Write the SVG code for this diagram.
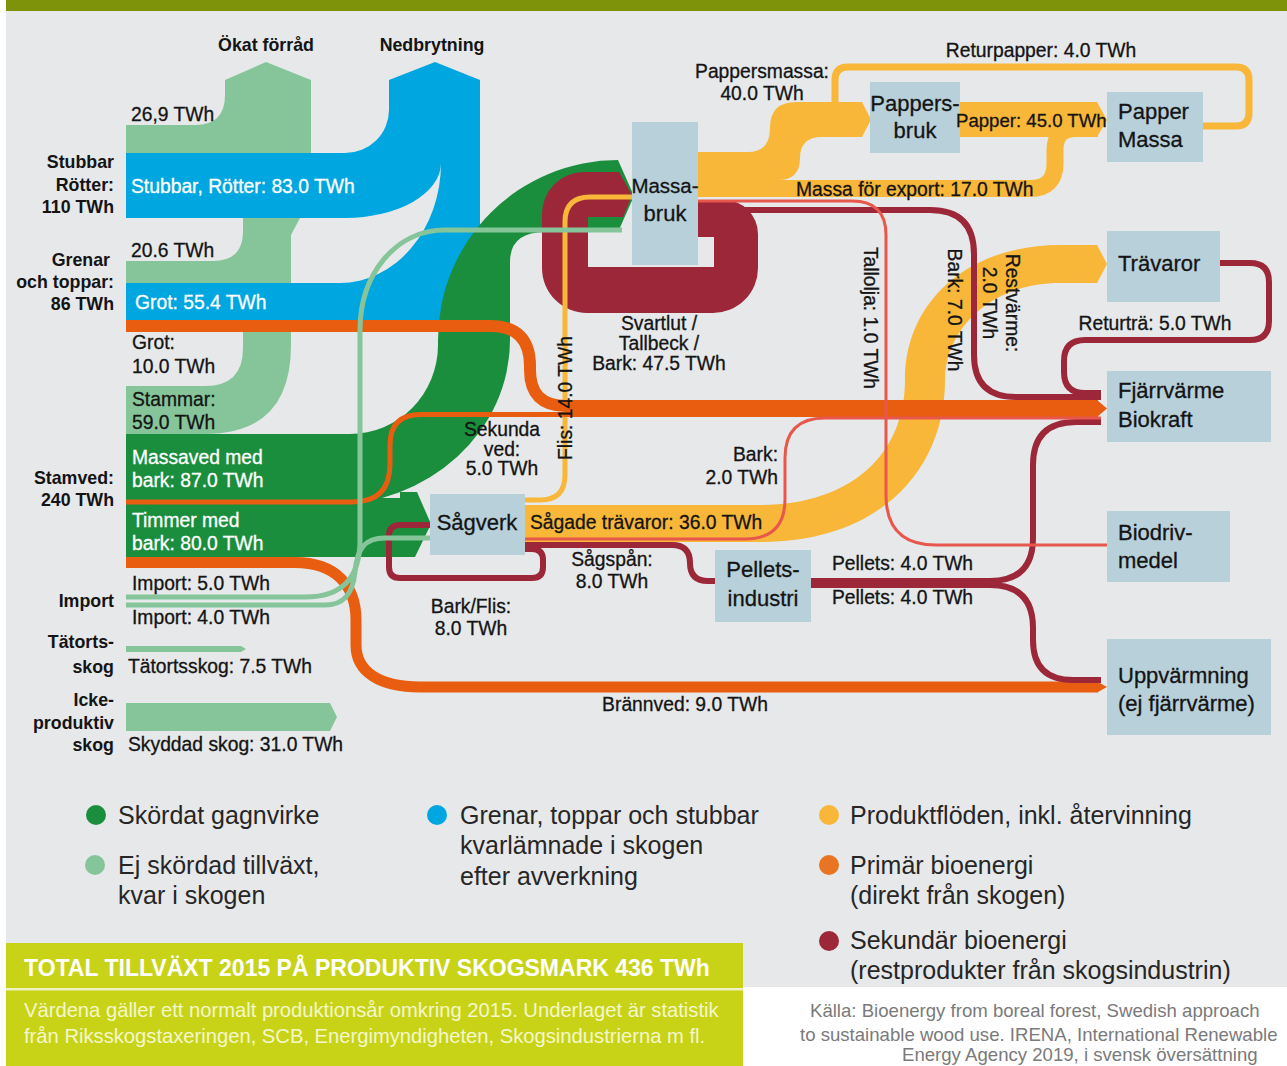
<svg xmlns="http://www.w3.org/2000/svg" width="1287" height="1066" viewBox="0 0 1287 1066">
<style>
text{font-family:'Liberation Sans',Arial,sans-serif;fill:#141414}
.l{font-size:19.3px;stroke:#141414;stroke-width:0.3px}
.b{font-size:17.8px;font-weight:bold}
.w{font-size:19.3px;fill:#fff;stroke:#fff;stroke-width:0.3px}
.n{font-size:22px;stroke:#141414;stroke-width:0.3px}
.g{font-size:25px;fill:#262626}
.m{text-anchor:middle}
.e{text-anchor:end}
.lg{fill:#86c59a}
.bl{fill:#00a6e0}
.dg{fill:#1b8e3e}
.mr{fill:#9c2739}
.ye{fill:#f8b738}
.or{fill:#e85d10}
.sl{fill:none;stroke-linejoin:round}
.node rect{fill:#b7d0da}
.src{font-size:18.6px;fill:#7a7a7a}
</style>
<rect x="0" y="0" width="1287" height="1066" fill="#ffffff"/>
<rect x="6" y="0" width="1281" height="11" fill="#7e930a"/>
<rect x="6" y="11" width="1281" height="976" fill="#e6e8ea"/>

<g id="connectors">
  <g id="light-green-bands">
    <path class="lg" d="M126,125 H195 Q225,125 225,95 V80 L266,62 L311,80 V218 L300,218 L291,235 V345 Q291,434 205,434 H126 V386 H205 Q243,386 243,348 V283 H126 V261 H213 Q243,261 243,231 V160 H126 Z"/>
    <path class="lg" d="M126,646 H241 L246,649 L241,652 H126 Z"/>
    <path class="lg" d="M126,703 H330 L337,717 L330,731 H126 Z"/>
  </g>
  <g id="blue-bands">
    <path class="bl" d="M126,153 H345 A44,43 0 0 0 389,110 V80 L435,62 L480,80 V175 H441 V163 A96,55 0 0 1 345,218 H126 Z"/>
    <path class="bl" d="M126,283 H340 A101,120 0 0 0 441,163 V100 H480 V230 Q480,326 420,326 H126 Z"/>
  </g>
  <g id="green-bands">
    <path class="dg" d="M126,434 H350 A88,89 0 0 0 438,345 V340 A180,180 0 0 1 618,160 L634,196 L618,232 H545 Q510,232 510,262 V340 A180,165 0 0 1 330,505 H126 Z"/>
    <path class="dg" d="M126,498 H400 V492 H417 L431,524 L415,557 H126 Z"/>
  </g>
  <g id="svartlut-loop">
    <path class="mr" d="M619,172 H584 A42,42 0 0 0 542,214 V268 A45,45 0 0 0 587,313 H713 A45,45 0 0 0 758,268 V234 A34,34 0 0 0 724,200 H690 V237 H714 V267 H588 V217 H623 L632,195 Z"/>
  </g>
  <g id="yellow-bands">
    <path class="ye" d="M698,152 H748 Q770,152 770,128 Q770,102 796,102 H862 L871,119.5 L862,137 H822 Q800,137 800,158 Q800,180 778,180 H698 Z"/>
    <path class="sl" stroke="#f8b738" stroke-width="17" d="M698,188.5 H1030 Q1055,188.5 1055,163.5 V150 Q1055,128.5 1076,128.5 H1098"/>
    <path class="ye" d="M960,102 H1097 L1107,120 L1097,137 H960 Z"/>
    <path class="sl" stroke="#f8b738" stroke-width="7" d="M1203,126 H1236 Q1249,126 1249,113 V80 Q1249,67 1236,67 H848 Q835,67 835,80 V104"/>
    <path class="ye" d="M525,505 H760 C850,505 905,455 905,380 C905,300 970,245 1060,245 H1097 L1107,264 L1097,283 H1060 C990,283 945,330 945,380 C945,470 880,542 760,542 H525 Z"/>
    <path class="sl" stroke="#f8b738" stroke-width="5" d="M525,500 H540 Q565,500 565,475 V222 Q565,197 590,197 H632"/>
  </g>
  <g id="orange-bands">
    <path class="sl" stroke="#e85d10" stroke-width="12" d="M126,326 H490 Q530,326 530,366 V370 Q530,406 566,406 H1098"/>
    <path class="sl" stroke="#e85d10" stroke-width="5" d="M126,502 H352 Q390,502 390,464 V445 Q390,414.5 421,414.5 H1098"/>
    <path class="or" d="M1097,400 L1107,408.5 L1097,417 Z"/>
    <path class="sl" stroke="#e85d10" stroke-width="11" d="M126,562.5 H295 C335,562.5 356,585 356,620 V645 C356,672 380,687 420,687 H1098"/>
    <path class="or" d="M1097,681.5 L1107,687 L1097,692.5 Z"/>
  </g>
  <g id="maroon-lines" class="sl" stroke="#9c2739" stroke-width="6">
    <path d="M698,210 H930 Q974,210 974,254 V355 Q974,397 1016,397 H1101"/>
    <path d="M1220,263 H1250 Q1269,263 1269,282 V321 Q1269,340 1250,340 H1085 Q1064,340 1064,361 V372 Q1064,393 1085,393 H1101"/>
    <path d="M525,549 H532 Q543,549 543,560 V567 Q543,578 532,578 H400 Q389,578 389,567 V536 Q389,525 400,525 H430"/>
    <path d="M525,545 H672 Q690,545 690,563 Q690,581 708,581 H716"/>
    <path d="M810,581 H990 Q1033,581 1033,538 V465 Q1033,422 1076,422 H1101"/>
    <path d="M810,585 H990 Q1033,585 1033,628 V640 Q1033,680 1073,680 H1101"/>
  </g>
  <g id="salmon-lines" class="sl" stroke="#e8574c" stroke-width="3">
    <path d="M698,201 H852 Q886,201 886,235 V495 Q886,545 936,545 H1107"/>
    <path d="M525,539 H745 Q785,539 785,499 V458 Q785,418 825,418 H1101"/>
  </g>
  <g id="import-lines" class="sl" stroke="#86c59a" stroke-width="5">
    <path d="M126,597 H305 C345,597 360,575 360,540 V330 C360,275 395,230 445,230 H622"/>
    <path d="M126,605 H325 C345,605 353,592 355,572 C357,548 365,538 385,538 H430"/>
  </g>
</g>

<g id="node-massabruk" class="node"><rect x="632" y="122" width="66" height="143"/><text class="n m" x="665" y="193" style="font-size:20.5px">Massa-</text><text class="n m" x="665" y="221">bruk</text></g>
<g id="node-pappersbruk" class="node"><rect x="870" y="82" width="90" height="71"/><text class="n m" x="915" y="111">Pappers-</text><text class="n m" x="915" y="138">bruk</text></g>
<g id="node-pappermassa" class="node"><rect x="1107" y="92" width="96" height="70"/><text class="n" x="1118" y="119">Papper</text><text class="n" x="1118" y="147">Massa</text></g>
<g id="node-travaror" class="node"><rect x="1107" y="231" width="113" height="71"/><text class="n" x="1118" y="271">Trävaror</text></g>
<g id="node-fjarrvarme" class="node"><rect x="1107" y="371" width="164" height="71"/><text class="n" x="1118" y="398">Fjärrvärme</text><text class="n" x="1118" y="427">Biokraft</text></g>
<g id="node-biodrivmedel" class="node"><rect x="1107" y="511" width="123" height="71"/><text class="n" x="1118" y="540">Biodriv-</text><text class="n" x="1118" y="568">medel</text></g>
<g id="node-uppvarmning" class="node"><rect x="1107" y="639" width="164" height="96"/><text class="n" x="1118" y="683">Uppvärmning</text><text class="n" x="1118" y="711">(ej fjärrvärme)</text></g>
<g id="node-sagverk" class="node"><rect x="430" y="494" width="95" height="61"/><text class="n m" x="477" y="530">Sågverk</text></g>
<g id="node-pellets" class="node"><rect x="715" y="550" width="96" height="72"/><text class="n m" x="763" y="577">Pellets-</text><text class="n m" x="763" y="606">industri</text></g>

<g id="labels">
  <text class="b m" x="266" y="51">Ökat förråd</text>
  <text class="b m" x="432" y="51">Nedbrytning</text>
  <text class="l" x="131" y="121">26,9 TWh</text>
  <text class="b e" x="114" y="168">Stubbar</text>
  <text class="b e" x="114" y="191">Rötter:</text>
  <text class="b e" x="114" y="213">110 TWh</text>
  <text class="w" x="131" y="193">Stubbar, Rötter: 83.0 TWh</text>
  <text class="l" x="131" y="257">20.6 TWh</text>
  <text class="b e" x="110" y="266">Grenar</text>
  <text class="b e" x="114" y="288">och toppar:</text>
  <text class="b e" x="114" y="310">86 TWh</text>
  <text class="w" x="135" y="309">Grot: 55.4 TWh</text>
  <text class="l" x="132" y="349">Grot:</text>
  <text class="l" x="132" y="373">10.0 TWh</text>
  <text class="l" x="132" y="406">Stammar:</text>
  <text class="l" x="132" y="429">59.0 TWh</text>
  <text class="w" x="132" y="464">Massaved med</text>
  <text class="w" x="132" y="487">bark: 87.0 TWh</text>
  <text class="b e" x="114" y="484">Stamved:</text>
  <text class="b e" x="114" y="506">240 TWh</text>
  <text class="w" x="132" y="527">Timmer med</text>
  <text class="w" x="132" y="550">bark: 80.0 TWh</text>
  <text class="l" x="132" y="590">Import: 5.0 TWh</text>
  <text class="b e" x="114" y="607">Import</text>
  <text class="l" x="132" y="624">Import: 4.0 TWh</text>
  <text class="b e" x="114" y="648">Tätorts-</text>
  <text class="b e" x="114" y="673">skog</text>
  <text class="l" x="128" y="673">Tätortsskog: 7.5 TWh</text>
  <text class="b e" x="114" y="706">Icke-</text>
  <text class="b e" x="114" y="729">produktiv</text>
  <text class="b e" x="114" y="751">skog</text>
  <text class="l" x="128" y="751">Skyddad skog: 31.0 TWh</text>
  <text class="l m" x="762" y="78">Pappersmassa:</text>
  <text class="l m" x="762" y="100">40.0 TWh</text>
  <text class="l m" x="1041" y="57">Returpapper: 4.0 TWh</text>
  <text class="l" x="956" y="127" style="font-size:18.6px">Papper: 45.0 TWh</text>
  <text class="l" x="796" y="196">Massa för export: 17.0 TWh</text>
  <text class="l m" transform="translate(864,318) rotate(90)">Tallolja: 1.0 TWh</text>
  <text class="l m" transform="translate(948,310) rotate(90)">Bark: 7.0 TWh</text>
  <text class="l m" transform="translate(1006,303) rotate(90)">Restvärme:</text>
  <text class="l m" transform="translate(983,303) rotate(90)">2.0 TWh</text>
  <text class="l m" x="1155" y="330">Returträ: 5.0 TWh</text>
  <text class="l m" x="659" y="330">Svartlut /</text>
  <text class="l m" x="659" y="350">Tallbeck /</text>
  <text class="l m" x="659" y="370">Bark: 47.5 TWh</text>
  <text class="l m" transform="translate(572,398) rotate(-90)">Flis: 14.0 TWh</text>
  <text class="l m" x="502" y="436">Sekunda</text>
  <text class="l m" x="502" y="456">ved:</text>
  <text class="l m" x="502" y="475">5.0 TWh</text>
  <text class="l e" x="778" y="461">Bark:</text>
  <text class="l e" x="778" y="484">2.0 TWh</text>
  <text class="l" x="530" y="529">Sågade trävaror: 36.0 TWh</text>
  <text class="l m" x="612" y="566">Sågspån:</text>
  <text class="l m" x="612" y="588">8.0 TWh</text>
  <text class="l m" x="471" y="613">Bark/Flis:</text>
  <text class="l m" x="471" y="635">8.0 TWh</text>
  <text class="l" x="832" y="570">Pellets: 4.0 TWh</text>
  <text class="l" x="832" y="604">Pellets: 4.0 TWh</text>
  <text class="l m" x="685" y="711">Brännved: 9.0 TWh</text>
</g>

<g id="legend">
  <circle cx="96" cy="815" r="10" fill="#1b8e3e"/>
  <text class="g" x="118" y="824">Skördat gagnvirke</text>
  <circle cx="95" cy="865" r="10" fill="#86c59a"/>
  <text class="g" x="118" y="874">Ej skördad tillväxt,</text>
  <text class="g" x="118" y="904">kvar i skogen</text>
  <circle cx="437" cy="815" r="10" fill="#00a6e0"/>
  <text class="g" x="460" y="824">Grenar, toppar och stubbar</text>
  <text class="g" x="460" y="854">kvarlämnade i skogen</text>
  <text class="g" x="460" y="885">efter avverkning</text>
  <circle cx="829" cy="815" r="10" fill="#f8b738"/>
  <text class="g" x="850" y="824">Produktflöden, inkl. återvinning</text>
  <circle cx="829" cy="865" r="10" fill="#e87424"/>
  <text class="g" x="850" y="874">Primär bioenergi</text>
  <text class="g" x="850" y="904">(direkt från skogen)</text>
  <circle cx="829" cy="941" r="10" fill="#9c2739"/>
  <text class="g" x="850" y="949">Sekundär bioenergi</text>
  <text class="g" x="850" y="979">(restprodukter från skogsindustrin)</text>
</g>

<g id="info-box">
  <rect x="6" y="943" width="737" height="123" fill="#c8d317"/>
  <rect x="6" y="988" width="737" height="2.5" fill="#eef2c2"/>
  <text x="24" y="976" style="font-size:23px;font-weight:bold;fill:#ffffff">TOTAL TILLVÄXT 2015 PÅ PRODUKTIV SKOGSMARK 436 TWh</text>
  <text x="24" y="1017" style="font-size:20.2px;fill:#f4f7cc">Värdena gäller ett normalt produktionsår omkring 2015. Underlaget är statistik</text>
  <text x="24" y="1043" style="font-size:20.2px;fill:#f4f7cc">från Riksskogstaxeringen, SCB, Energimyndigheten, Skogsindustrierna m fl.</text>
</g>
<g id="source">
  <text class="src" x="810" y="1017">Källa: Bioenergy from boreal forest, Swedish approach</text>
  <text class="src" x="800" y="1041">to sustainable wood use. IRENA, International Renewable</text>
  <text class="src" x="902" y="1061">Energy Agency 2019, i svensk översättning</text>
</g>
</svg>
